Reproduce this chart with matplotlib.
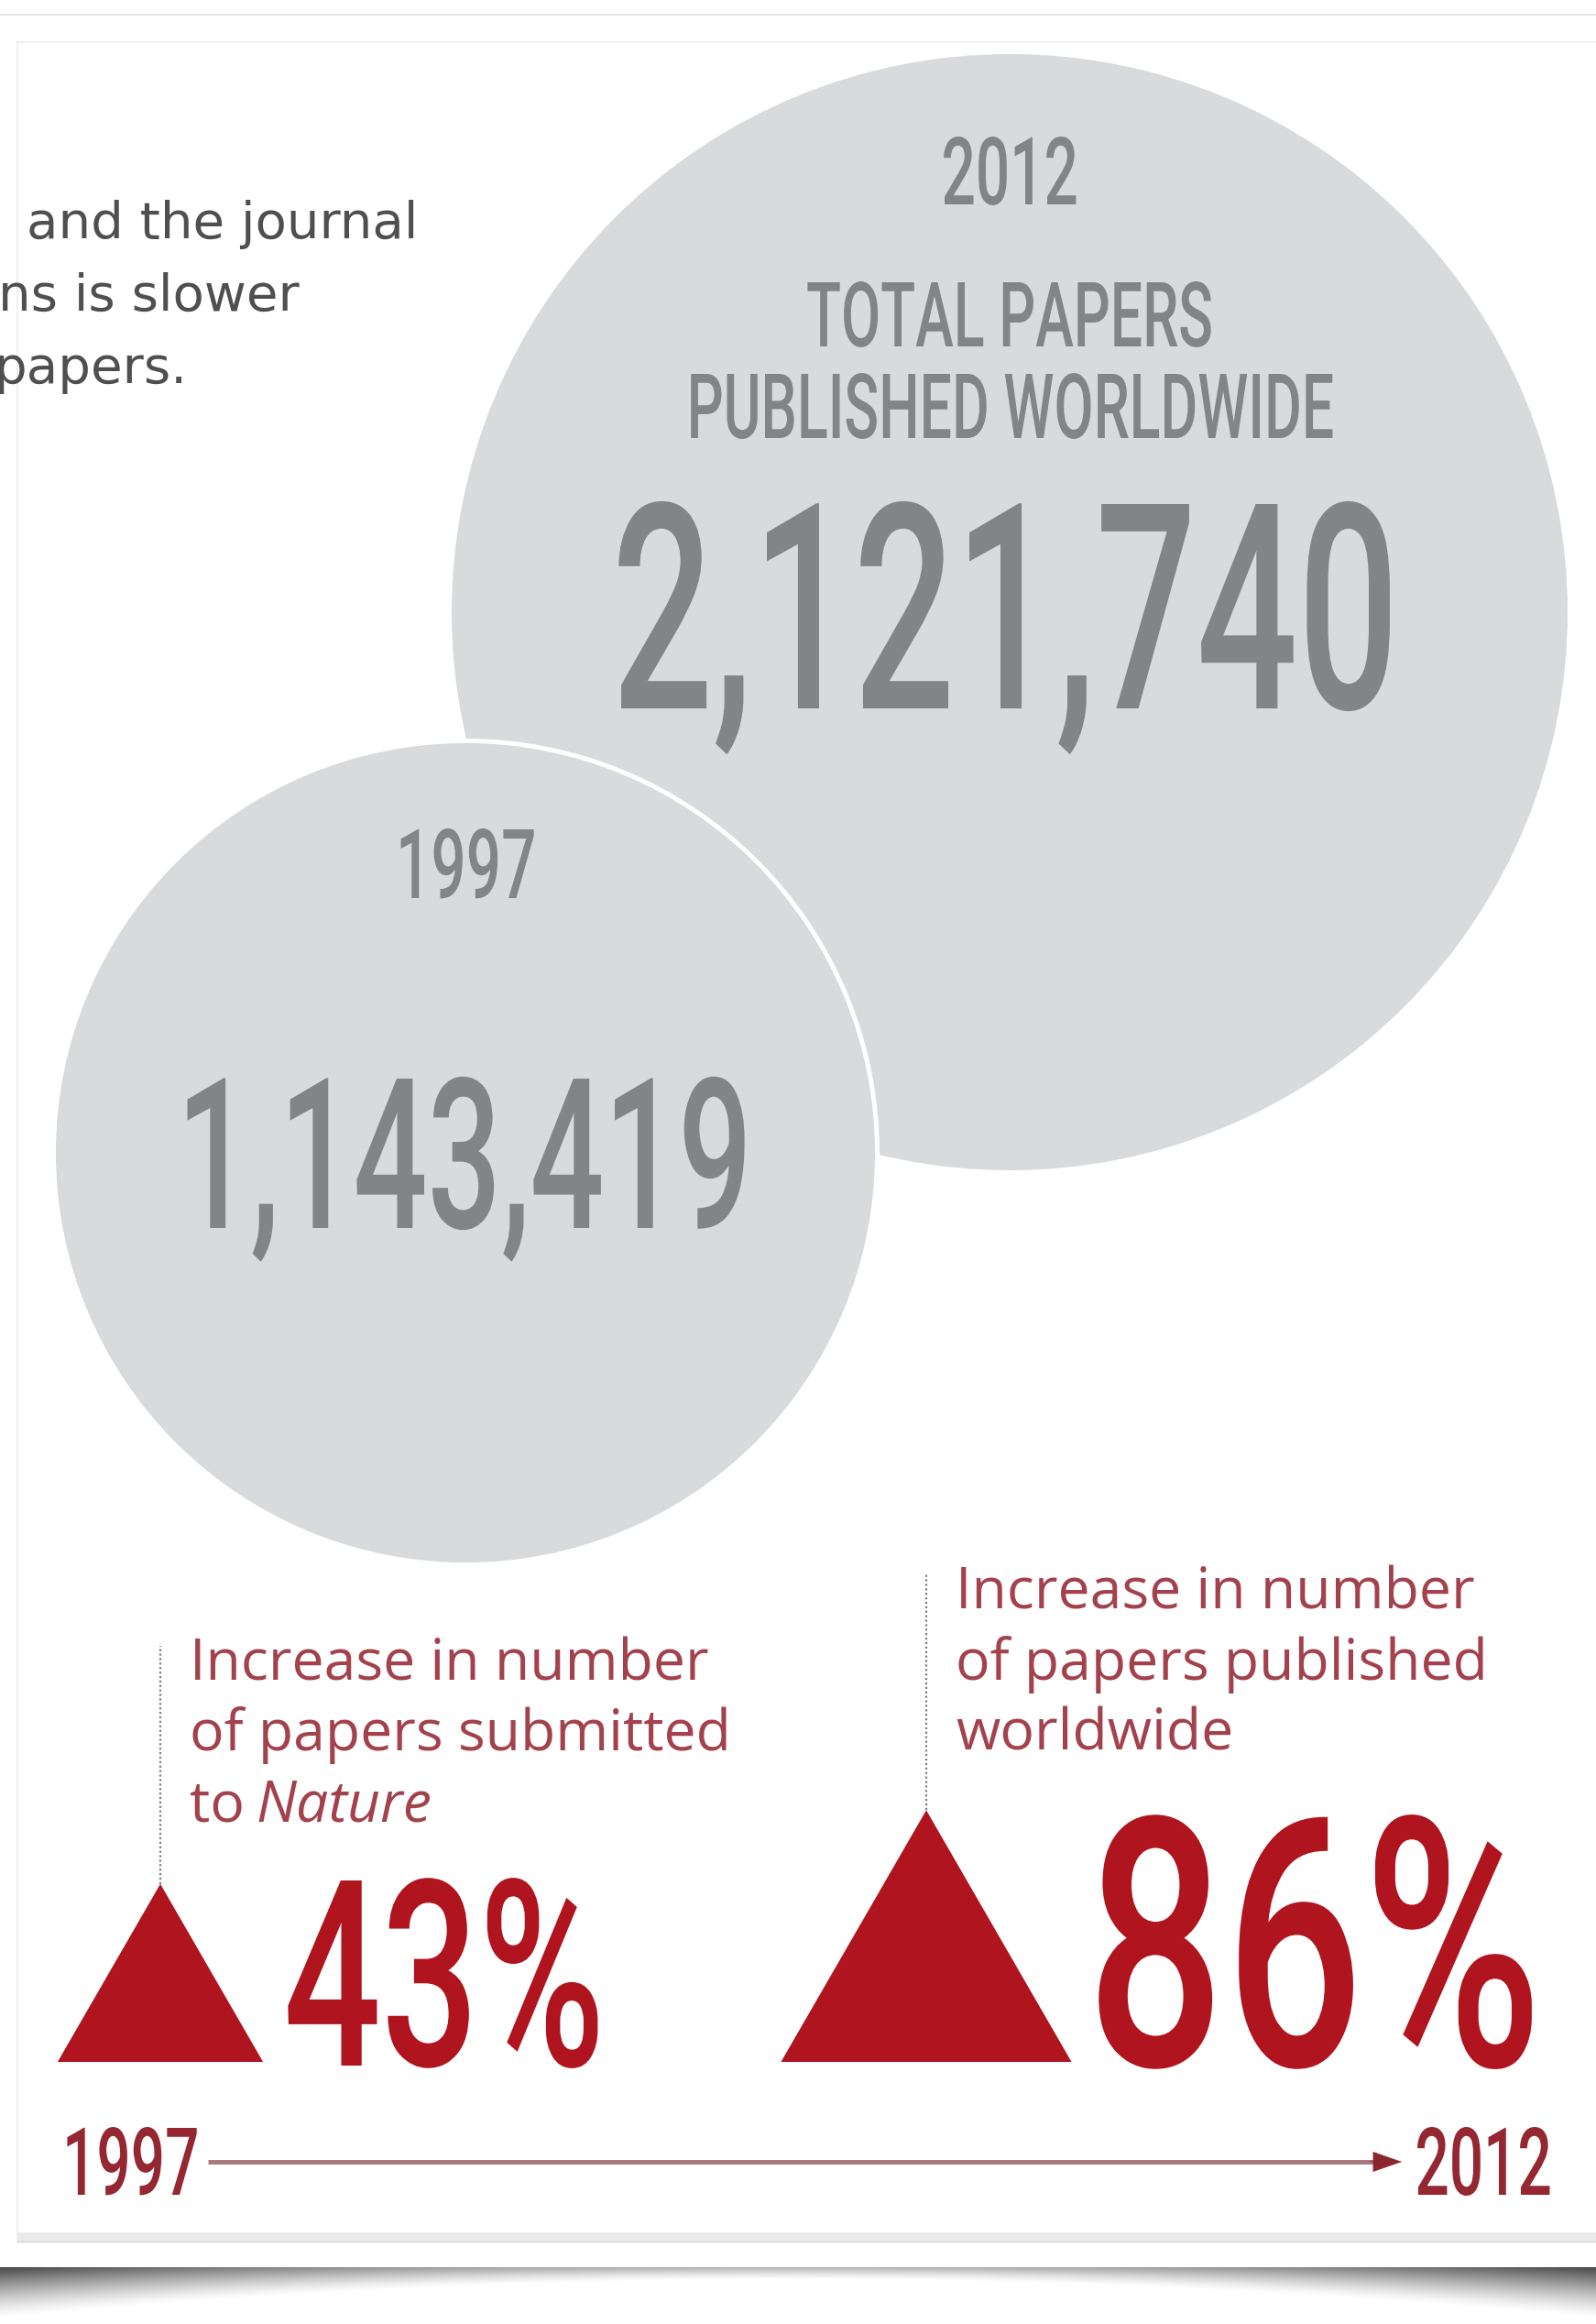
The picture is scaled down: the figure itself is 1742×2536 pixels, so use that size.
import numpy as np
import matplotlib.pyplot as plt
from matplotlib.patches import Circle, Polygon, Rectangle
from matplotlib.patheffects import AbstractPathEffect
from matplotlib.transforms import Affine2D

years = ["1997", "2012"]
total_papers = [1143419, 2121740]
pct_increase = [43, 86]
increase_lines = [
    ["Increase in number", "of papers submitted", "to"],
    ["Increase in number", "of papers published", "worldwide"],
]
circle_heading = ["TOTAL PAPERS", "PUBLISHED WORLDWIDE"]
intro_lines = ["and the journal", "ns is slower", "papers."]

GRAY_FILL = "#d9dadc"
GRAY_TEXT = "#838487"
RED = "#b0141e"
RED_TEXT = "#a3424d"
DARK_RED = "#952733"

W, H = 1742, 2536
PT = 0.72  # pixels -> points at dpi 100
WEIGHT = "medium"


def cap(px):
    # font size (pt) for Roboto digits / capitals of a given pixel height
    return px / 0.711 * PT


class Narrow(AbstractPathEffect):
    """squeeze glyphs sideways to fake a condensed face"""

    def __init__(self, sx=0.64, anchor="center"):
        super().__init__()
        self.sx = sx
        self.anchor = anchor

    def draw_path(self, renderer, gc, tpath, affine, rgbFace=None):
        ext = tpath.get_extents()
        x0 = ext.x0 if self.anchor == "left" else (ext.x0 + ext.x1) / 2
        squeeze = Affine2D().translate(-x0, 0).scale(self.sx, 1).translate(x0, 0)
        renderer.draw_path(gc, tpath, squeeze + affine, rgbFace)


fig = plt.figure(figsize=(W / 100, H / 100), dpi=100)
ax = fig.add_axes([0, 0, 1, 1])

# page / card decoration
ax.plot([0, W], [16, 16], color="#e6e6e6", lw=1.5, zorder=0)
card = Rectangle((19, 46), W, 2400, facecolor="white", edgecolor="#ededed", lw=1.2, zorder=0)
ax.add_patch(card)
ax.add_patch(Rectangle((19, 2436), W, 10, facecolor="#ebebeb", edgecolor="none", zorder=0))
ax.plot([19, W], [2446, 2446], color="#d4d4d4", lw=1, zorder=0)

xs = np.linspace(-1, 1, 600)
ts = np.linspace(0, 1, 80)[:, None]
depth = 0.22 + 0.7 * xs ** 2
shade = np.zeros((80, 600, 4))
shade[..., 3] = (0.3 + 0.42 * xs ** 2) * np.clip(1 - ts / depth, 0, 1) ** 1.4
ax.imshow(shade, extent=(0, W, H, 2474), aspect="auto", interpolation="bilinear", zorder=0)

# intro text, cut off by the card edge
for i, line in enumerate(intro_lines):
    t = ax.text([29, -2, -6][i], 260 + 79 * i, line, fontsize=40.5, family="DejaVu Sans",
                color="#4f4f4f", ha="left", va="baseline", zorder=3)
    t.set_clip_path(card)

# bubbles: area proportional to number of papers
k = 609 / np.sqrt(total_papers[1])
radii = [k * np.sqrt(v) for v in total_papers]
centres = [(508, 1258), (1102, 668)]
ax.add_patch(Circle(centres[1], radii[1], facecolor=GRAY_FILL, edgecolor="none", zorder=1))
ax.add_patch(Circle(centres[0], radii[0] + 2.5, facecolor=GRAY_FILL, edgecolor="white",
                    lw=3.6, zorder=2))

cx = centres[1][0]
ax.text(cx, 223, years[1], fontsize=cap(73), family="Roboto", weight=WEIGHT, color=GRAY_TEXT,
        ha="center", va="baseline", path_effects=[Narrow(0.64)], zorder=3)
for i, line in enumerate(circle_heading):
    ax.text(cx, 378 + 100 * i, line, fontsize=cap(70), family="Roboto", weight=WEIGHT,
            color=GRAY_TEXT, ha="center", va="baseline", path_effects=[Narrow(0.635)], zorder=3)
ax.text(cx - 4, 773, f"{total_papers[1]:,}", fontsize=cap(223), family="Roboto", weight=WEIGHT,
        color=GRAY_TEXT, ha="center", va="baseline", path_effects=[Narrow(0.62)], zorder=3)

cx = centres[0][0]
ax.text(cx, 980, years[0], fontsize=cap(75), family="Roboto", weight=WEIGHT, color=GRAY_TEXT,
        ha="center", va="baseline", path_effects=[Narrow(0.64)], zorder=3)
ax.text(cx - 2, 1340, f"{total_papers[0]:,}", fontsize=cap(163), family="Roboto", weight=WEIGHT,
        color=GRAY_TEXT, ha="center", va="baseline", path_effects=[Narrow(0.62)], zorder=3)

# triangles: area proportional to the percentage increase
base_y = 2250
tri_x = [175, 1011]
leader_top = [1796, 1716]
pct_x = [307, 1180]
pct_h = [202, 270]
pct_sx = [0.66, 0.70]
text_x = [207, 1043]
text_base = [1833, 1756]
for i, p in enumerate(pct_increase):
    s = 34.2 * np.sqrt(p)
    h = s * np.sqrt(3) / 2
    x = tri_x[i]
    ax.add_patch(Polygon([(x - s / 2, base_y), (x + s / 2, base_y), (x, base_y - h)],
                         closed=True, facecolor=RED, edgecolor="none", zorder=2))
    ax.plot([x, x], [base_y - h, leader_top[i]], color="#7e7e7e", lw=1.6,
            ls=(0, (1, 1.2)), zorder=2)
    ax.text(pct_x[i], base_y + 4, f"{p}%", fontsize=cap(pct_h[i]), family="Roboto",
            weight=WEIGHT, color=RED, ha="left", va="baseline",
            path_effects=[Narrow(pct_sx[i], "left")], zorder=3)
    for j, line in enumerate(increase_lines[i]):
        t = ax.text(text_x[i], text_base[i] + 77 * j, line, fontsize=45, family="Open Sans",
                    color=RED_TEXT, ha="left", va="baseline", zorder=3)
    if i == 0:
        ax.annotate("Nature", xy=(1, 0), xycoords=t, xytext=(13, 0), textcoords="offset pixels",
                    fontsize=45, family="Open Sans", style="italic", color=RED_TEXT,
                    ha="left", va="bottom", zorder=3)

# timeline 1997 -> 2012
ax.text(65, 2395, years[0], fontsize=cap(73), family="Roboto", weight=WEIGHT, color=DARK_RED,
        ha="left", va="baseline", path_effects=[Narrow(0.64, "left")], zorder=3)
ax.text(1543, 2395, years[1], fontsize=cap(73), family="Roboto", weight=WEIGHT, color=DARK_RED,
        ha="left", va="baseline", path_effects=[Narrow(0.64, "left")], zorder=3)
ax.plot([227, 1505], [2359, 2359], color="#aa7a81", lw=3.6, solid_capstyle="butt", zorder=2)
ax.annotate("", xy=(1530, 2359), xytext=(1495, 2359),
            arrowprops=dict(arrowstyle="-|>,head_length=0.4,head_width=0.14", color="#8c2530",
                            lw=0.5, mutation_scale=54, shrinkA=0, shrinkB=0), zorder=3)

ax.set_xlim(0, W)
ax.set_ylim(H, 0)
ax.axis("off")
fig.savefig("out.png", dpi=100, facecolor="white")
